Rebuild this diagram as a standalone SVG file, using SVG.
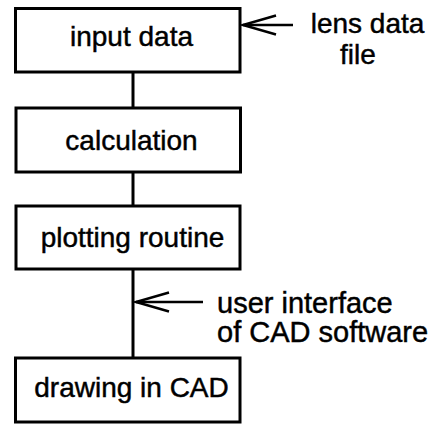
<svg xmlns="http://www.w3.org/2000/svg" width="439" height="425" viewBox="0 0 439 425">
  <style>
    .box { fill: #fff; stroke: #000; stroke-width: 3; }
    .label { font-family: "Liberation Sans", Arial, Helvetica, sans-serif; font-size: 28px; fill: #000; stroke: #000; stroke-width: 0.45; }
    .wide { font-size: 29px; }
    .mid { text-anchor: middle; }
    .link { stroke: #000; stroke-width: 3; fill: none; }
    .feed { stroke: #000; stroke-width: 2.5; fill: none; marker-end: url(#openArrow); }
  </style>
  <defs>
    <marker id="openArrow" markerUnits="userSpaceOnUse" viewBox="-36 -13 40 26" markerWidth="40" markerHeight="26" refX="0" refY="0" orient="auto" overflow="visible">
      <path d="M-33,-9.5 L0,0 L-33,9.5" fill="none" stroke="#000" stroke-width="2.5"/>
    </marker>
  </defs>
  <rect width="439" height="425" fill="#fff"/>

  <!-- connectors -->
  <g id="connectors">
    <line class="link" x1="133" y1="72" x2="133" y2="108"/>
    <line class="link" x1="133" y1="172" x2="133" y2="206"/>
    <line class="link" x1="133" y1="269" x2="133" y2="358"/>
    <line class="feed" x1="293" y1="25" x2="243" y2="25"/>
    <line class="feed" x1="203" y1="302" x2="136" y2="302"/>
  </g>

  <g id="input-data">
    <rect class="box" x="15.5" y="8.5" width="224.5" height="63.5"/>
    <text class="label mid" x="131.5" y="46">input data</text>
  </g>

  <g id="calculation">
    <rect class="box" x="16" y="108" width="224.5" height="64"/>
    <text class="label mid" x="131.5" y="150">calculation</text>
  </g>

  <g id="plotting-routine">
    <rect class="box" x="16" y="206" width="224" height="63"/>
    <text class="label mid" x="132.5" y="247">plotting routine</text>
  </g>

  <g id="drawing-in-cad">
    <rect class="box" x="15.5" y="358" width="224.5" height="64"/>
    <text class="label mid" x="131.5" y="397">drawing in CAD</text>
  </g>

  <g id="lens-data-file">
    <text class="label mid" x="367.5" y="33">lens data</text>
    <text class="label mid" x="358" y="64">file</text>
  </g>

  <g id="user-interface">
    <text class="label wide" x="217" y="313">user interface</text>
    <text class="label wide" x="217" y="342">of CAD software</text>
  </g>
</svg>
